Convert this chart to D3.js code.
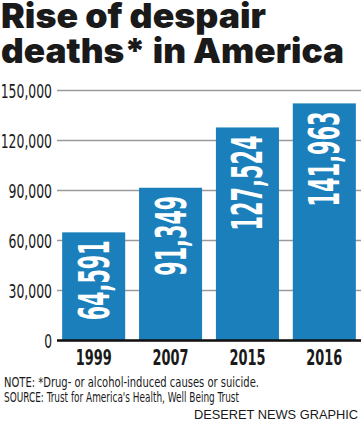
<!DOCTYPE html>
<html><head><meta charset="utf-8">
<script src="https://cdn.jsdelivr.net/npm/d3@7"></script>
<style>
body{margin:0;background:#fff;}
svg{display:block;}
</style></head>
<body>
<svg id="c" width="361" height="423"></svg>
<script>
const years = ["1999","2007","2015","2016"];
const deaths = [64591, 91349, 127524, 141963];
const tickValues = [0, 30000, 60000, 90000, 120000, 150000];
const titleLines = ["Rise of despair", "deaths* in America"];
const noteLines = ["NOTE: *Drug- or alcohol-induced causes or suicide.", "SOURCE: Trust for America's Health, Well Being Trust"];
const credit = "DESERET NEWS GRAPHIC";

const svg = d3.select("#c");
const cond = "'Liberation Sans Narrow','DejaVu Sans Condensed','Roboto Condensed',sans-serif";

// title
const titleW = [265, 343];
svg.selectAll("text.title").data(titleLines).join("text")
  .attr("class","title")
  .attr("x", 1).attr("y", (d,i)=> 28 + i*35)
  .attr("font-family","Inter, Roboto, sans-serif").attr("font-weight", 900)
  .attr("font-size", 34).attr("fill","#1a1a1a")
  .attr("textLength",(d,i)=>titleW[i]).attr("lengthAdjust","spacingAndGlyphs")
  .text(d=>d);

const x = d3.scaleBand().domain(years).range([56, 362]).paddingInner(0.18).paddingOuter(0.08);
const y = d3.scaleLinear().domain([0,150000]).range([340, 90]);

// grid + axis labels
const fmt = d => d===0 ? "0" : d3.format(",")(d);
const yAxis = d3.axisLeft(y).tickValues(tickValues).tickSize(-(361-57)).tickFormat(fmt);
const g = svg.append("g").attr("transform","translate(57,0)").call(yAxis);
g.select(".domain").remove();
g.selectAll(".tick line").attr("stroke","#9a9a9a").attr("stroke-width",1.3);
g.selectAll(".tick text").attr("x",-5).attr("font-family",cond).attr("font-size",20)
  .attr("fill","#1a1a1a").attr("dy","0.35em")
  .attr("textLength", d => { const s = fmt(d); const digits = s.replace(/,/g,"").length; const commas = s.length - digits; return digits*7.8 + commas*4.5; })
  .attr("lengthAdjust","spacingAndGlyphs");

// bars
svg.selectAll("rect.bar").data(deaths).join("rect")
  .attr("class","bar")
  .attr("x",(d,i)=>x(years[i])).attr("width",x.bandwidth())
  .attr("y",d=>y(d)).attr("height",d=>y(0)-y(d))
  .attr("fill","#1a7fbb");

// baseline
svg.append("line").attr("x1",57).attr("x2",361).attr("y1",y(0)+0.5).attr("y2",y(0)+0.5)
  .attr("stroke","#111").attr("stroke-width",2.5);

// values inside bars (rotated)
svg.selectAll("text.val").data(deaths).join("text")
  .attr("class","val")
  .attr("transform",(d,i)=>`translate(${x(years[i])+x.bandwidth()/2+15},${y(d)+8}) rotate(-90)`)
  .attr("text-anchor","end")
  .attr("font-family",cond).attr("font-weight",700).attr("font-size",42)
  .attr("fill","#fff")
  .attr("textLength",(d,i)=> i<2 ? 80 : 95).attr("lengthAdjust","spacingAndGlyphs")
  .text(d=>d3.format(",")(d));

// x labels
svg.selectAll("text.xl").data(years).join("text")
  .attr("class","xl")
  .attr("x",d=>x(d)+x.bandwidth()/2).attr("y",365)
  .attr("text-anchor","middle")
  .attr("font-family",cond).attr("font-weight",700).attr("font-size",21)
  .attr("fill","#1a1a1a")
  .attr("textLength",36).attr("lengthAdjust","spacingAndGlyphs")
  .text(d=>d);

// notes
const noteW = [255, 235];
svg.selectAll("text.note").data(noteLines).join("text")
  .attr("class","note")
  .attr("x",4).attr("y",(d,i)=>387+i*15)
  .attr("font-family",cond).attr("font-size",13.5).attr("fill","#1a1a1a")
  .attr("textLength",(d,i)=>noteW[i]).attr("lengthAdjust","spacingAndGlyphs")
  .text(d=>d);

svg.append("text").attr("x",358).attr("y",419).attr("text-anchor","end")
  .attr("font-family","'Liberation Sans', Arial, sans-serif").attr("font-size",13)
  .attr("fill","#1a1a1a")
  .attr("textLength",164).attr("lengthAdjust","spacingAndGlyphs")
  .text(credit);
</script>
</body></html>
